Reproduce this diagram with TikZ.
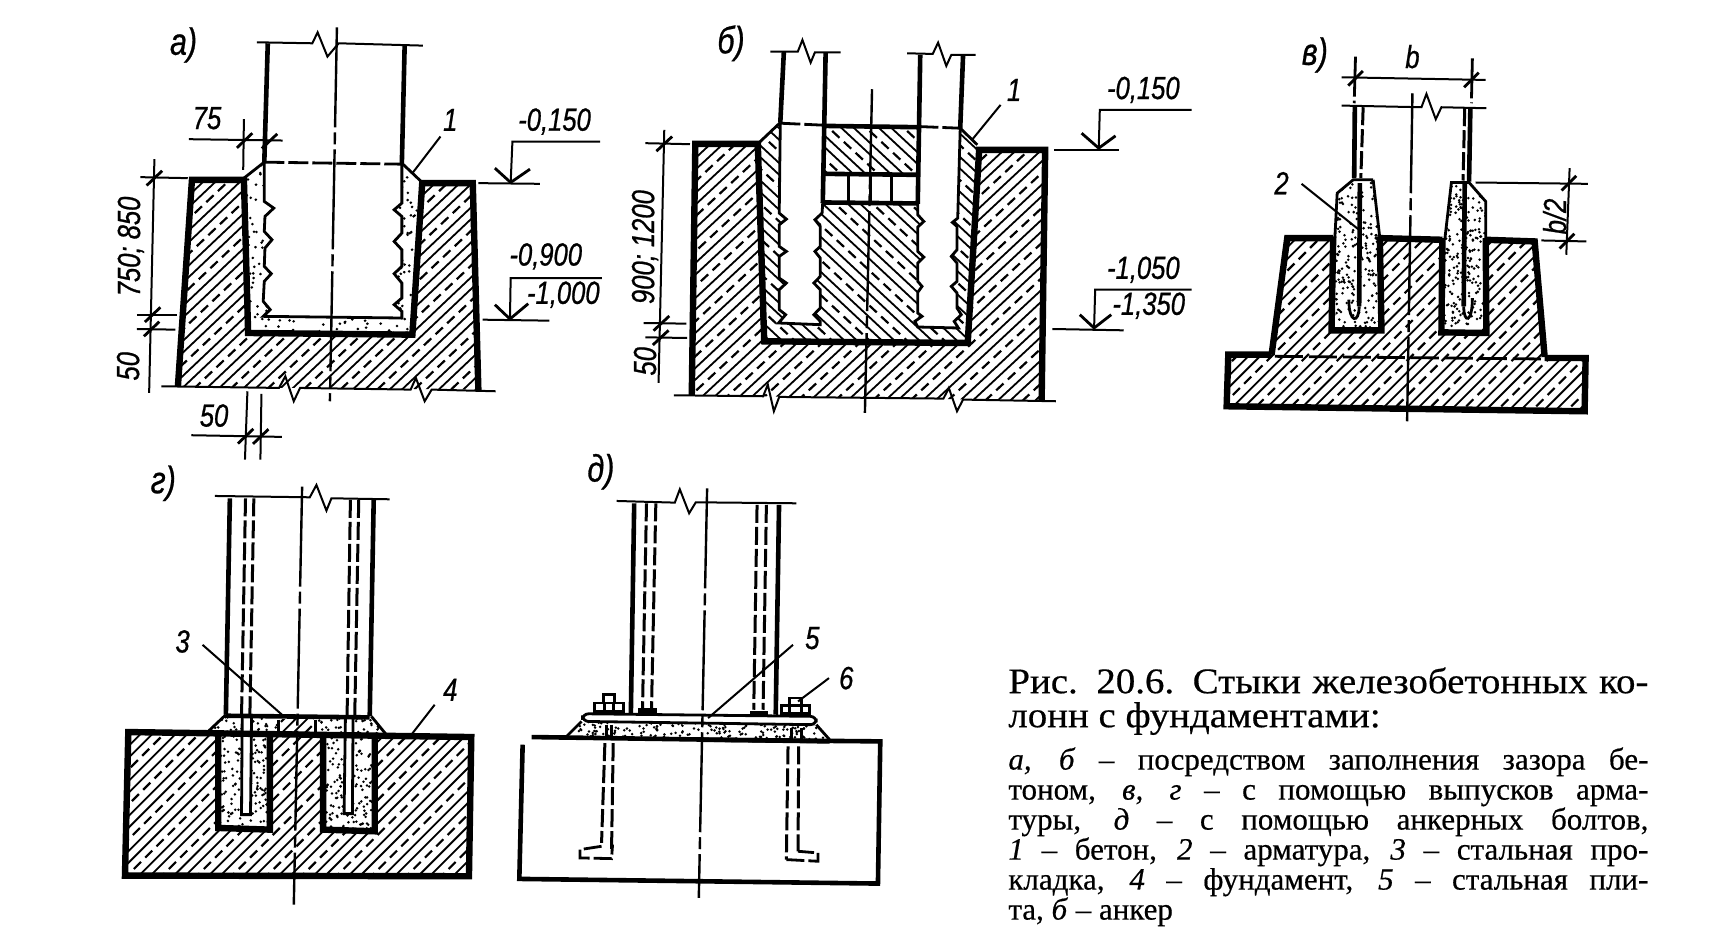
\documentclass[tikz,border=0pt]{standalone}
\usepackage{fontspec}
\setmainfont[FakeBold=0.5,FakeStretch=1.0]{Liberation Serif}
\newfontfamily\headfont[FakeBold=0.5,FakeStretch=1.08]{Liberation Serif}
\newfontfamily\dimfont[FakeStretch=0.8,FakeBold=0.7]{Liberation Sans}
\tikzset{
  wall/.style = {line width = 3.2pt, line join = miter},
  col/.style = {line width = 2.3pt, line join = miter},
  slim/.style = {line width = 1pt},
  rib/.style = {line width = 1.4pt},
  rebar/.style = {line width = 1.5pt, dash pattern = on 9pt off 2pt},
  axis/.style = {line width = 1.2pt, dash pattern = on 50pt off 2.5pt on 6pt off 2.5pt},
  hatchline/.style = {line width = 0.9pt},
  hatchdash/.style = {line width = 1.1pt, dash pattern = on 5pt off 3pt},
  dimtext/.style = {font = \fontsize{16}{16}\selectfont\dimfont\itshape, inner sep = 0pt},
  figtext/.style = {font = \fontsize{19}{19}\selectfont\dimfont\itshape, inner sep = 0pt}
}
\newcommand{\hatchright}[1]{
  \begin{scope}
    \clip #1;
    \foreach \k in {-1500,-1395,...,1700}{
      \draw [hatchline] (\k,1500) -- ++(1500,-1500);
      \draw [hatchline] (\k+35,1500) -- ++(1500,-1500);
      \draw [hatchdash] (\k+70,1500) -- ++(1500,-1500);
    }
  \end{scope}
}
\newcommand{\hatchleft}[1]{
  \begin{scope}
    \clip #1;
    \foreach \k in {-1500,-1395,...,1700}{
      \draw [hatchline] (\k,0) -- ++(1500,1500);
      \draw [hatchline] (\k+35,0) -- ++(1500,1500);
      \draw [hatchdash] (\k+70,0) -- ++(1500,1500);
    }
  \end{scope}
}
\newcommand{\stipplefill}[6]{
  \begin{scope}
    \clip #1;
    \foreach \n in {1,...,#6}{
      \fill ({#2+rnd*(#3-#2)},{#4+rnd*(#5-#4)}) circle (4.2);
    }
  \end{scope}
}
\newcommand{\slashtick}[2]{\draw [rib] (#1-22,#2+22) -- (#1+22,#2-22);}
\begin{document}
\begin{tikzpicture}[x = 0.5pt, y = -0.5pt]
  \useasboundingbox (0,0) rectangle (1710,947);
  \pgfmathsetseed{11}

  \begin{scope}[shift = {(100,0)}, xscale = 0.351, yscale = 0.333]
    \def\coreA{(468,490) -- (468,605) -- (495,625) -- (470,650) -- (468,695) -- (490,720) -- (470,745) -- (468,800) -- (488,822) -- (468,845) -- (465,905) -- (485,930) -- (465,950) -- (860,955) -- (860,935) -- (838,915) -- (860,895) -- (860,850) -- (838,822) -- (860,800) -- (860,750) -- (838,725) -- (860,700) -- (860,650) -- (838,630) -- (860,610) -- (860,490)}
    \hatchright{(262,540) -- (410,540) -- (422,1000) -- (890,1005) -- (918,550) -- (1060,550) -- (1078,1170) -- (222,1162) -- cycle}
    \stipplefill{\coreA -- (915,545) -- (890,1005) -- (422,1000) -- (410,535) -- cycle}{405}{920}{487}{1005}{460}
    \draw [col] (478,130) -- (468,490);
    \draw [col] (868,135) -- (860,490);
    \draw [rib] \coreA;
    \draw [slim] (447,127) -- (605,130) -- (620,97) -- (648,170) -- (680,130) -- (920,137);
    \draw [axis] (675,82) -- (655,1205);
    \draw [rib] (410,535) -- (468,487);
    \draw [rib] (860,490) -- (915,545);
    \draw [rib, dash pattern = on 10pt off 2pt] (468,487) -- (860,493);
    \draw [wall] (222,1160) -- (262,540) -- (410,540) -- (422,1000) -- (890,1005) -- (918,550) -- (1062,550) -- (1078,1172);
    \draw [slim] (175,1160) -- (510,1165) -- (528,1130) -- (552,1205) -- (570,1165) -- (885,1170) -- (900,1135) -- (925,1205) -- (945,1170) -- (1127,1175);
    % sizes
    \draw [slim] (253,418) -- (520,422);
    \draw [slim] (410,358) -- (408,510);
    \slashtick{412}{422}
    \slashtick{483}{424}
    \draw [slim] (155,478) -- (140,1180);
    \draw [slim] (115,532) -- (250,535);
    \draw [slim] (105,945) -- (220,945);
    \draw [slim] (105,988) -- (215,990);
    \slashtick{155}{535}
    \slashtick{150}{945}
    \slashtick{147}{988}
    \draw [slim] (420,1175) -- (413,1380);
    \draw [slim] (460,1183) -- (457,1380);
    \draw [slim] (260,1307) -- (518,1312);
    \slashtick{415}{1310}
    \slashtick{458}{1311}
    \draw [slim] (1425,425) -- (1175,425) -- (1170,548);
    \draw [rib] (1125,505) -- (1170,548) -- (1225,508);
    \draw [slim] (1078,550) -- (1253,552);
    \draw [slim] (1430,835) -- (1170,835) -- (1168,955);
    \draw [rib] (1125,915) -- (1168,958) -- (1220,912);
    \draw [slim] (1090,960) -- (1280,963);
    \draw [slim] (970,410) -- (890,520);
    \node [figtext] (figa) at (238,135) {а)};
    \node [dimtext] (sizea) at (305,355) {75};
    \node [dimtext, rotate = 90] (sizeb) at (88,740) {750; 850};
    \node [dimtext, rotate = 90] (sizec) at (80,1100) {50};
    \node [dimtext] (sized) at (325,1248) {50};
    \node [dimtext] (levela) at (1295,365) {-0,150};
    \node [dimtext] (levelb) at (1270,770) {-0,900};
    \node [dimtext] (levelc) at (1320,885) {-1,000};
    \node [dimtext] (numa) at (998,360) {1};
  \end{scope}

  \begin{scope}[shift = {(640,0)}, xscale = 0.357, yscale = 0.333]
    \def\legB{(393,368) -- (390,640) -- (410,658) -- (390,675) -- (390,740) -- (410,755) -- (390,770) -- (390,835) -- (410,850) -- (390,870) -- (390,930) -- (408,945) -- (388,970) -- (505,975) -- (505,965) -- (487,945) -- (505,925) -- (505,870) -- (487,850) -- (505,830) -- (505,775) -- (490,755) -- (505,740) -- (505,680) -- (490,660) -- (510,640) -- (512,607)}
    \def\legC{(778,610) -- (778,645) -- (795,665) -- (778,682) -- (778,755) -- (795,772) -- (778,790) -- (778,845) -- (790,860) -- (778,878) -- (778,940) -- (790,950) -- (770,965) -- (778,982) -- (892,985) -- (880,965) -- (900,945) -- (888,925) -- (888,880) -- (872,860) -- (888,845) -- (888,790) -- (872,770) -- (888,750) -- (888,680) -- (875,668) -- (890,655) -- (897,385)}
    \hatchright{(155,432) -- (330,432) -- (348,1025) -- (918,1030) -- (950,450) -- (1135,450) -- (1125,1203) -- (145,1187) -- cycle}
    \hatchleft{\legB -- \legC -- (945,435) -- (918,1030) -- (348,1025) -- (330,432) -- cycle}
    \hatchleft{(512,375) -- (780,380) -- (778,522) -- (512,520) -- cycle}
    \draw [col] (403,155) -- (393,368);
    \draw [col] (520,157) -- (512,610);
    \draw [col] (785,165) -- (778,612);
    \draw [col] (905,165) -- (897,385);
    \draw [rib] \legB;
    \draw [rib] \legC;
    \draw [slim] (365,155) -- (442,155) -- (455,120) -- (478,188) -- (490,157) -- (562,157);
    \draw [slim] (748,160) -- (820,162) -- (835,128) -- (858,198) -- (872,165) -- (940,165);
    \draw [col] (512,378) -- (780,382);
    \draw [col] (512,522) -- (778,525);
    \draw [col] (512,608) -- (778,611);
    \draw [rib] (585,525) -- (585,608);
    \draw [rib] (645,525) -- (645,608);
    \draw [rib] (705,525) -- (705,608);
    \draw [rib, dash pattern = on 10pt off 2pt] (393,370) -- (515,376);
    \draw [rib, dash pattern = on 10pt off 2pt] (780,380) -- (897,385);
    \draw [rib] (330,432) -- (393,368);
    \draw [rib] (897,385) -- (945,435);
    \draw [axis] (650,268) -- (630,1240);
    \draw [wall] (145,1187) -- (155,432) -- (330,432) -- (348,1025) -- (918,1030) -- (950,450) -- (1135,450) -- (1125,1205);
    \draw [slim] (95,1187) -- (345,1190) -- (358,1155) -- (375,1235) -- (390,1192) -- (850,1197) -- (865,1165) -- (888,1235) -- (905,1200) -- (1165,1205);
    % sizes
    \draw [slim] (68,390) -- (52,1150);
    \draw [slim] (15,430) -- (140,433);
    \draw [slim] (10,970) -- (130,972);
    \draw [slim] (15,1013) -- (132,1015);
    \slashtick{68}{432}
    \slashtick{60}{971}
    \slashtick{58}{1014}
    \draw [slim] (1545,330) -- (1288,330) -- (1285,445);
    \draw [rib] (1237,400) -- (1285,445) -- (1332,408);
    \draw [slim] (1160,450) -- (1342,450);
    \draw [slim] (1545,870) -- (1275,870) -- (1272,985);
    \draw [rib] (1232,945) -- (1272,985) -- (1320,945);
    \draw [slim] (1155,988) -- (1355,992);
    \draw [slim] (1010,315) -- (930,420);
    \node [figtext] (figb) at (255,130) {б)};
    \node [dimtext, rotate = 90] (sizee) at (14,742) {900; 1200};
    \node [dimtext, rotate = 90] (sizef) at (14,1085) {50};
    \node [dimtext] (leveld) at (1410,270) {-0,150};
    \node [dimtext] (levele) at (1410,810) {-1,050};
    \node [dimtext] (levelf) at (1425,918) {-1,350};
    \node [dimtext] (numb) at (1048,270) {1};
  \end{scope}

  \begin{scope}[shift = {(1200,20)}, xscale = 0.333, yscale = 0.333]
    \hatchright{(262,655) -- (400,655) -- (395,930) -- (545,930) -- (540,655) -- (728,660) -- (725,938) -- (860,940) -- (858,660) -- (1005,665) -- (1035,1012) -- (1158,1015) -- (1155,1175) -- (80,1160) -- (85,1005) -- (215,1000) -- cycle}
    \stipplefill{(463,478) -- (520,480) -- (540,655) -- (540,930) -- (400,930) -- (405,655) -- (412,520) -- cycle}{395}{545}{475}{935}{230}
    \stipplefill{(755,488) -- (808,488) -- (858,545) -- (858,940) -- (725,938) -- (735,660) -- cycle}{725}{860}{485}{940}{230}
    \draw [col] (465,260) -- (463,475);
    \draw [col] (812,262) -- (808,485);
    \draw [rebar] (490,262) -- (483,475);
    \draw [rebar] (795,265) -- (790,482);
    \draw [slim] (425,257) -- (665,262) -- (680,222) -- (708,298) -- (725,262) -- (860,265);
    \draw [axis] (638,220) -- (622,1205);
    \draw [rib] (520,480) -- (460,480) -- (412,520) -- (405,655);
    \draw [rib] (520,480) -- (540,655);
    \draw [rib] (735,660) -- (755,488) -- (808,488) -- (858,545) -- (858,660);
    \draw [col] (480,490) -- (478,860);
    \draw [col] (795,490) -- (792,860);
    \draw [rib] (478,860) .. controls (478,912) and (447,912) .. (447,840);
    \draw [rib] (792,860) .. controls (792,912) and (818,912) .. (818,835);
    \draw [wall] (215,1005) -- (262,655) -- (400,655);
    \draw [wall] (540,655) -- (728,660);
    \draw [wall] (858,660) -- (1005,665) -- (1035,1012);
    \draw [wall] (400,650) -- (395,932) -- (545,932) -- (540,650);
    \draw [wall] (728,655) -- (725,938) -- (860,940) -- (858,655);
    \draw [wall] (215,1005) -- (85,1005) -- (80,1160) -- (1155,1175) -- (1158,1015) -- (1035,1015);
    \draw [rib, dash pattern = on 14pt off 3pt] (225,1010) -- (1030,1018);
    % sizes
    \draw [rib, dash pattern = on 20pt off 2pt] (467,110) -- (463,250);
    \draw [rib, dash pattern = on 20pt off 2pt] (818,115) -- (815,250);
    \draw [slim] (425,172) -- (858,180);
    \slashtick{467}{175}
    \slashtick{815}{180}
    \draw [slim] (828,488) -- (1165,492);
    \draw [slim] (1025,662) -- (1160,665);
    \draw [slim] (1110,445) -- (1100,705);
    \slashtick{1108}{490}
    \slashtick{1102}{664}
    \draw [slim] (305,492) -- (475,628);
    \node [figtext] (figc) at (345,105) {в)};
    \node [dimtext] (sizeg) at (638,110) {b};
    \node [dimtext, rotate = 90] (sizeh) at (1065,590) {b/2};
    \node [dimtext] (numc) at (245,490) {2};
  \end{scope}

  \begin{scope}[shift = {(100,460)}, xscale = 0.333, yscale = 0.333]
    \hatchright{(85,817) -- (355,820) -- (355,1105) -- (510,1110) -- (510,820) -- (670,825) -- (670,1110) -- (825,1115) -- (825,825) -- (1115,832) -- (1108,1250) -- (75,1248) -- cycle}
    \stipplefill{(378,765) -- (810,770) -- (860,825) -- (325,815) -- cycle}{325}{860}{765}{825}{100}
    \stipplefill{(355,820) -- (510,820) -- (510,1110) -- (355,1105) -- cycle}{355}{510}{820}{1110}{150}
    \stipplefill{(670,825) -- (825,825) -- (825,1115) -- (670,1110) -- cycle}{670}{825}{825}{1115}{150}
    \fill [white] (535,780) rectangle (650,818);
    \hatchright{(540,780) rectangle (645,818)}
    \fill [white] (425,775) rectangle (455,1065);
    \fill [white] (735,775) rectangle (760,1062);
    \draw [rib] (427,775) -- (425,1065) -- (452,1065) -- (455,775);
    \draw [rib] (737,775) -- (733,1062) -- (758,1062) -- (760,775);
    \draw [col] (390,115) -- (378,765);
    \draw [col] (822,118) -- (810,770);
    \draw [rebar] (437,115) -- (425,770);
    \draw [rebar] (462,115) -- (450,770);
    \draw [rebar] (752,120) -- (742,770);
    \draw [rebar] (777,120) -- (765,770);
    \draw [slim] (345,108) -- (630,112) -- (650,75) -- (680,152) -- (695,115) -- (870,118);
    \draw [axis] (607,80) -- (582,1335);
    \draw [col] (378,768) -- (810,773);
    \draw [rib] (378,765) -- (325,815);
    \draw [rib] (815,770) -- (860,825);
    \draw [rib] (535,780) -- (535,818);
    \draw [rib] (648,780) -- (648,820);
    \draw [wall] (85,817) -- (1115,832) -- (1108,1250) -- (75,1248) -- cycle;
    \draw [wall] (355,820) -- (355,1105) -- (510,1110) -- (510,820);
    \draw [wall] (670,825) -- (670,1110) -- (825,1115) -- (825,825);
    \draw [slim] (308,555) -- (550,768);
    \draw [slim] (1005,735) -- (935,825);
    \node [figtext] (figd) at (190,70) {г)};
    \node [dimtext] (numd) at (248,545) {3};
    \node [dimtext] (nume) at (1052,690) {4};
  \end{scope}

  \begin{scope}[shift = {(500,460)}, xscale = 0.333, yscale = 0.333]
    \stipplefill{(245,785) -- (950,795) -- (990,840) -- (200,830) -- cycle}{200}{990}{785}{840}{190}
    \draw [col] (403,130) -- (393,760);
    \draw [col] (838,135) -- (828,765);
    \draw [rebar] (440,130) -- (428,745);
    \draw [rebar] (468,130) -- (455,745);
    \draw [rebar] (772,135) -- (762,750);
    \draw [rebar] (800,135) -- (790,750);
    \draw [slim] (350,123) -- (525,128) -- (540,88) -- (568,160) -- (588,127) -- (890,130);
    \draw [axis] (622,85) -- (597,1315);
    \draw [rib, rounded corners = 3pt] (248,762) -- (950,770) -- (950,795) -- (248,785) -- cycle;
    \draw [rib] (245,785) -- (200,830);
    \draw [rib] (950,795) -- (990,840);
    \draw [col] (95,832) -- (990,845);
    \draw [rib] (283,755) rectangle (372,730);
    \draw [rib] (310,730) rectangle (345,705);
    \draw [rib] (315,730) -- (315,755);
    \draw [rib] (340,730) -- (340,755);
    \draw [rib] (845,762) rectangle (930,738);
    \draw [rib] (870,738) rectangle (905,715);
    \draw [rib] (870,738) -- (870,762);
    \draw [rib] (905,738) -- (905,762);
    \fill (415,745) rectangle (470,762);
    \fill (750,755) rectangle (805,770);
    \draw [rib] (320,795) -- (320,832);
    \draw [rib] (335,795) -- (335,832);
    \draw [rib] (875,805) -- (875,840);
    \draw [rib] (905,805) -- (905,840);
    \draw [rebar] (315,850) -- (305,1150);
    \draw [rebar] (340,850) -- (335,1170);
    \draw [rib, dash pattern = on 9pt off 2pt] (305,1160) -- (240,1170) -- (240,1195) -- (335,1197) -- (338,1155);
    \draw [rebar] (865,860) -- (860,1200);
    \draw [rebar] (897,860) -- (895,1175);
    \draw [rib, dash pattern = on 9pt off 2pt] (860,1200) -- (955,1205) -- (955,1180) -- (895,1175);
    \draw [col] (68,855) -- (58,1258) -- (1135,1272) -- (1142,845) -- (600,840);
    \draw [slim] (880,555) -- (625,775);
    \draw [slim] (988,655) -- (895,725);
    \node [figtext] (fige) at (303,35) {д)};
    \node [dimtext] (numf) at (938,535) {5};
    \node [dimtext] (numg) at (1040,655) {6};
  \end{scope}

  \node [anchor = north west, inner sep = 0pt, align = left, font = \fontsize{18}{17}\selectfont\headfont] (captiona) at (1008,667) {\makebox[320pt][s]{Рис. 20.6. Стыки железобетонных ко-}\\лонн с фундаментами:};
  \node [anchor = north west, inner sep = 0pt, align = left, font = \fontsize{15.5}{15}\selectfont] (captionb) at (1008,747) {\makebox[320pt][s]{\textit{а, б} – посредством заполнения зазора бе-}\\\makebox[320pt][s]{тоном, \textit{в, г} – с помощью выпусков арма-}\\\makebox[320pt][s]{туры, \textit{д} – с помощью анкерных болтов,}\\\makebox[320pt][s]{\textit{1} – бетон, \textit{2} – арматура, \textit{3} – стальная про-}\\\makebox[320pt][s]{кладка, \textit{4} – фундамент, \textit{5} – стальная пли-}\\та, \textit{б} – анкер};
\end{tikzpicture}
\end{document}
